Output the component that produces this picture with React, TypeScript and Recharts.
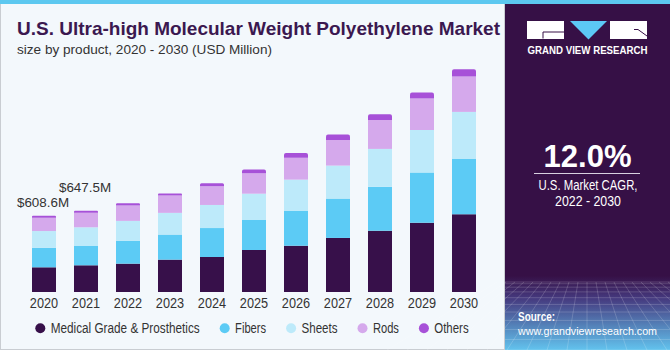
import React from 'react';
import { BarChart, Bar, XAxis, YAxis, Legend, LabelList } from 'recharts';

const years = ['2020', '2021', '2022', '2023', '2024', '2025', '2026', '2027', '2028', '2029', '2030'];
const medical = [197, 213, 226, 258, 279, 335, 369, 431, 489, 553, 620];
const fibers = [156, 154, 181, 200, 231, 239, 277, 314, 351, 399, 441];
const sheets = [133, 149, 160, 173, 184, 210, 250, 263, 301, 340, 375];
const rods = [106, 116, 122, 138, 149, 163, 175, 205, 231, 250, 282];
const others = [16, 16, 19, 16, 24, 30, 38, 42, 45, 48, 59];
const valueLabels = ['$608.6M', '$647.5M', '', '', '', '', '', '', '', '', ''];

const seriesKeys = ['medical', 'fibers', 'sheets', 'rods', 'others'];
const seriesNames = ['Medical Grade & Prosthetics', 'Fibers', 'Sheets', 'Rods', 'Others'];
const seriesColors = ['#37104a', '#5ccbf5', '#bdeafa', '#d5a9ec', '#a751d8'];

const data = years.map((year, i) => ({
  year,
  medical: medical[i],
  fibers: fibers[i],
  sheets: sheets[i],
  rods: rods[i],
  others: others[i],
}));

const REG = "'Liberation Sans', Arial, sans-serif";
const LABEL_LIFT = [8.6, 18.6];
const LEGEND_TEXT_W = [149, 31, 36, 26, 34.3];

const renderValueLabel = (props: any) => {
  const { x, y, width, index } = props;
  const txt = valueLabels[index];
  if (!txt) return null;
  const lift = LABEL_LIFT[index] ?? 10;
  return (
    <text x={Number(x) + Number(width) / 2 - 1} y={Number(y) - lift} textAnchor="middle"
      fontFamily={REG} fontSize={13.4} fill="#333333">
      {txt}
    </text>
  );
};

const renderTick = (props: any) => {
  const { x, y, payload } = props;
  return (
    <text x={x} y={y} dy="0.71em" textAnchor="middle" fontFamily={REG} fontSize={15} fill="#333333"
      textLength={28.3} lengthAdjust="spacingAndGlyphs">
      {payload.value}
    </text>
  );
};

const renderLegend = () => {
  let cursor = 35.3;
  const items = seriesNames.map((n, i) => {
    const cx = cursor + 5;
    const tx = cursor + 15.4;
    cursor = tx + LEGEND_TEXT_W[i] + 20;
    return (
      <g key={n}>
        <circle cx={cx} cy={10.3} r={5} fill={seriesColors[i]} />
        <text x={tx} y={15.2} fontFamily={REG} fontSize={14} fill="#333333"
          textLength={LEGEND_TEXT_W[i]} lengthAdjust="spacingAndGlyphs">
          {n}
        </text>
      </g>
    );
  });
  return (
    <svg width={505} height={22} style={{ display: 'block' }}>
      {items}
    </svg>
  );
};

const Decor = () => {
  const hLines = Array.from({ length: 11 }, (_, k) => 282 + 68 * Math.pow(k / 10, 1.6));
  const vLines = Array.from({ length: 21 }, (_, j) => j - 10);
  return (
    <svg width={670} height={350} style={{ position: 'absolute', left: 0, top: 0 }}>
      <defs>
        <linearGradient id="pg" x1="0" y1="0" x2="0" y2="1">
          <stop offset="0%" stopColor="#361046" />
          <stop offset="30%" stopColor="#45397e" />
          <stop offset="100%" stopColor="#62c3ee" />
        </linearGradient>
      </defs>
      <rect x={0} y={0} width={670} height={350} fill="#f3f8fc" />
      <rect x={0.5} y={0.5} width={504} height={349} fill="none" stroke="#c9cdd2" />
      <rect x={505} y={0} width={165} height={350} fill="#361046" />
      <rect x={505} y={276} width={165} height={74} fill="url(#pg)" />
      <g stroke="#ffffff" strokeOpacity={0.22} strokeWidth={0.8}>
        {hLines.map((y, k) => (
          <line key={'h' + k} x1={505} x2={670} y1={y} y2={y} />
        ))}
        {vLines.map((j) => (
          <line key={'v' + j} x1={587 + j * 9} y1={282} x2={587 + j * 20} y2={350} />
        ))}
      </g>
      <rect x={0} y={0} width={670} height={4} fill="#5cc8f0" />
      <text x={17} y={35} fontFamily={REG} fontWeight="bold" fontSize={19} fill="#3b1850"
        textLength={483} lengthAdjust="spacingAndGlyphs">
        U.S. Ultra-high Molecular Weight Polyethylene Market
      </text>
      <text x={17} y={53.5} fontFamily={REG} fontSize={13.5} fill="#333333"
        textLength={255} lengthAdjust="spacingAndGlyphs">
        size by product, 2020 - 2030 (USD Million)
      </text>
      <rect x={527} y={21} width={37} height={18} fill="#ffffff" />
      <path d="M543,38.5 V32 H564" stroke="#361046" strokeWidth={1} fill="none" />
      <polygon points="570,21 607,21 588.5,39.5" fill="#5cc8f5" />
      <rect x={610} y={21} width={37} height={18} fill="#ffffff" />
      <path d="M634,29.5 H638 L647,36" stroke="#361046" strokeWidth={1} fill="none" />
      <text x={527.5} y={54} fontFamily={REG} fontWeight="bold" fontSize={10} fill="#ffffff"
        textLength={120} lengthAdjust="spacingAndGlyphs">
        GRAND VIEW RESEARCH
      </text>
      <text x={587.5} y={166.5} textAnchor="middle" fontFamily={REG} fontWeight="bold" fontSize={32} fill="#ffffff"
        textLength={88} lengthAdjust="spacingAndGlyphs">
        12.0%
      </text>
      <line x1={534} x2={640} y1={173.5} y2={173.5} stroke="#d8d0e0" strokeWidth={1.2} />
      <text x={588} y={190} textAnchor="middle" fontFamily={REG} fontSize={14} fill="#ffffff"
        textLength={99} lengthAdjust="spacingAndGlyphs">
        U.S. Market CAGR,
      </text>
      <text x={588} y={205.5} textAnchor="middle" fontFamily={REG} fontSize={14} fill="#ffffff"
        textLength={66} lengthAdjust="spacingAndGlyphs">
        2022 - 2030
      </text>
      <text x={518} y={320.5} fontFamily={REG} fontWeight="bold" fontSize={12.5} fill="#ffffff"
        textLength={37} lengthAdjust="spacingAndGlyphs">
        Source:
      </text>
      <text x={518} y={334.5} fontFamily={REG} fontSize={11.2} fill="#ffffff"
        textLength={139} lengthAdjust="spacingAndGlyphs">
        www.grandviewresearch.com
      </text>
    </svg>
  );
};

export default function App() {
  return (
    <div style={{ position: 'absolute', left: 0, top: 0, width: 670, height: 350, overflow: 'hidden' }}>
      <Decor />
      <div style={{ position: 'absolute', left: 0, top: 0 }}>
        <BarChart width={505} height={350} data={data} margin={{ top: 60, right: 20, bottom: 28, left: 23 }}
          barSize={24}>
          <XAxis dataKey="year" axisLine={false} tickLine={false} tickSize={0} tickMargin={5} height={30}
            interval={0} tick={renderTick} />
          <YAxis hide domain={[0, 1850]} />
          <Legend layout="horizontal" verticalAlign="middle" align="center" content={renderLegend}
            wrapperStyle={{ position: 'absolute', top: 318, left: 0, width: 505, height: 22 }} />
          {seriesKeys.map((k, i) => (
            <Bar key={k} dataKey={k} name={seriesNames[i]} stackId="a" fill={seriesColors[i]}
              isAnimationActive={false} radius={k === 'others' ? [2, 2, 0, 0] : 0}>
              {k === 'others' ? <LabelList dataKey="others" content={renderValueLabel} /> : null}
            </Bar>
          ))}
        </BarChart>
      </div>
    </div>
  );
}
